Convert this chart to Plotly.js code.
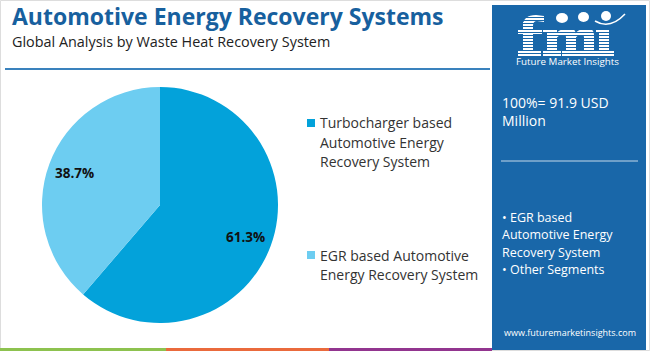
<!DOCTYPE html>
<html>
<head>
<meta charset="utf-8">
<script src="https://cdn.plot.ly/plotly-3.0.1.min.js"></script>
<style>html,body{margin:0;padding:0;background:#fff}#chart{width:650px;height:351px}</style>
</head>
<body>
<div id="chart"></div>
<script>
const categories = ["Turbocharger based Automotive Energy Recovery System", "EGR based Automotive Energy Recovery System"];
const legendLines = [["Turbocharger based", "Automotive Energy", "Recovery System"], ["EGR based Automotive", "Energy Recovery System"]];
const shares = [61.3, 38.7];
const sliceColors = ["#03a2da", "#6dcdf1"];
const titleText = "Automotive Energy Recovery Systems";
const subtitleText = "Global Analysis by Waste Heat Recovery System";
const totalLines = ["100%= 91.9 USD", "Million"];
const otherLines = ["• EGR based", "Automotive Energy", "Recovery System", "• Other Segments"];
const brandText = "Future Market Insights";
const siteText = "www.futuremarketinsights.com";

const W = 650, H = 351;
const px = x => x / W;
const py = y => 1 - y / H;
const panel = "#1967a9";
const FONT = "Open Sans, sans-serif";

const cx = 160, cy = 205, R = 118;

const data = [{
  type: "pie",
  labels: categories,
  values: shares,
  sort: false,
  direction: "clockwise",
  rotation: 0,
  marker: {colors: sliceColors, line: {width: 0}},
  textinfo: "none",
  hoverinfo: "none",
  showlegend: false,
  domain: {x: [px(cx - R), px(cx + R)], y: [py(cy + R), py(cy - R)]}
}];

function rect(x0, y0, x1, y1, fill, extra) {
  return Object.assign({type: "rect", xref: "paper", yref: "paper", x0: px(x0), x1: px(x1), y0: py(y1), y1: py(y0), line: {width: 0}, fillcolor: fill}, extra || {});
}
function pathShape(cmds, fill, lineColor, lw) {
  // cmds: array of [letter, x, y, (x, y)...] in pixels
  const d = cmds.map(c => c[0] + (c.length > 1 ? " " + c.slice(1).map((v, k) => k % 2 === 0 ? px(v) : py(v)).join(" ") : "")).join(" ");
  return {type: "path", xref: "paper", yref: "paper", path: d, fillcolor: fill || "rgba(0,0,0,0)", line: {color: lineColor || "rgba(0,0,0,0)", width: lw || 0}};
}

const shapes = [
  {type: "rect", xref: "paper", yref: "paper", x0: px(0.5), x1: px(W - 0.5), y0: py(H - 0.5), y1: py(0.5), line: {color: "#dddddd", width: 1}, fillcolor: "rgba(0,0,0,0)", layer: "below"},
  {type: "line", xref: "paper", yref: "paper", x0: px(5), x1: px(490), y0: py(69), y1: py(69), line: {color: "#3a82bd", width: 2}},
  rect(492, 5, 646, 350, panel, {layer: "below"}),
  {type: "line", xref: "paper", yref: "paper", x0: px(501), x1: px(638), y0: py(161), y1: py(161), line: {color: "rgba(255,255,255,0.75)", width: 1}},
  rect(0, 348, 166, 351, "#8dc24f"),
  rect(166, 348, 329, 351, "#ea6a3c"),
  rect(329, 348, 492, 351, "#92358f")
];

// ---- fmi logo (graphic) ----
const WH = "#ffffff";
// f
shapes.push(rect(523, 22, 533, 56, WH));
shapes.push(pathShape([["M", 523, 26], ["Q", 523, 15, 536, 15], ["L", 544, 16], ["L", 544, 22], ["L", 537, 21], ["Q", 533, 21, 533, 26], ["Z"]], WH));
shapes.push(rect(518, 29, 542, 34, WH));
shapes.push(rect(518, 51, 541, 56, WH));
// m
shapes.push(rect(547, 29, 557, 56, WH));
shapes.push(rect(543, 29, 557, 33, WH));
shapes.push(pathShape([["M", 556, 34], ["Q", 559, 29, 566, 29], ["L", 571, 29], ["Q", 576, 29, 576, 35], ["L", 576, 56], ["L", 566, 56], ["L", 566, 37], ["Q", 566, 35, 563, 35], ["Q", 558, 35, 556, 39], ["Z"]], WH));
shapes.push(pathShape([["M", 575, 34], ["Q", 578, 29, 585, 29], ["L", 589, 29], ["Q", 594, 29, 594, 35], ["L", 594, 56], ["L", 584, 56], ["L", 584, 37], ["Q", 584, 35, 581, 35], ["Q", 577, 35, 575, 39], ["Z"]], WH));
shapes.push(rect(543, 51, 561, 56, WH));
shapes.push(rect(562, 51, 580, 56, WH));
shapes.push(rect(580, 51, 597, 56, WH));
// i
shapes.push(rect(599, 29, 609, 56, WH));
shapes.push(rect(596, 29, 609, 33, WH));
shapes.push(rect(596, 51, 614, 56, WH));
// stripes across the letters
for (let y = 17.5; y < 56; y += 3) {
  const x0 = y < 27 ? 515 : 515;
  const x1 = y < 27 ? 548 : 618;
  shapes.push({type: "line", xref: "paper", yref: "paper", x0: px(x0), x1: px(x1), y0: py(y), y1: py(y), line: {color: panel, width: 1}});
}
// icons above the letters
shapes.push({type: "circle", xref: "paper", yref: "paper", x0: px(556), x1: px(568), y0: py(23), y1: py(13), line: {width: 0}, fillcolor: WH});
shapes.push({type: "circle", xref: "paper", yref: "paper", x0: px(578), x1: px(589), y0: py(22), y1: py(12), line: {width: 0}, fillcolor: WH});
shapes.push({type: "circle", xref: "paper", yref: "paper", x0: px(601), x1: px(611), y0: py(21), y1: py(11), line: {width: 0}, fillcolor: WH});
shapes.push(pathShape([["M", 595, 21], ["Q", 610, 30, 625, 14]], null, WH, 1.5));

const annotations = [];
function ann(text, x, y, size, color, opts) {
  annotations.push(Object.assign({
    text: text, xref: "paper", yref: "paper", x: px(x), y: py(y),
    xanchor: "left", yanchor: "middle", showarrow: false,
    font: {family: FONT, size: size, color: color}
  }, opts || {}));
}
ann("<b>" + titleText + "</b>", 10, 16.3, 23, "#17609e", {font: {family: FONT, size: 23, color: "#17609e", weight: 700}});
ann(subtitleText, 10, 41.8, 14.4, "#222222");

// slice percentage labels placed at each slice's mid-angle
const total = shares.reduce((a, b) => a + b, 0);
let cum = 0;
shares.forEach(v => {
  const mid = (cum + v / 2) / total * 2 * Math.PI;
  cum += v;
  const lx = cx + 0.775 * R * Math.sin(mid);
  const ly = cy - 0.775 * R * Math.cos(mid);
  ann("<b>" + v.toFixed(1) + "%</b>", lx, ly, 13.5, "#111111", {xanchor: "center", font: {family: FONT, size: 13.5, color: "#111111", weight: 700}});
});

// legend built from categories/colours
const legendTop = [123, 255];
legendLines.forEach((lines, i) => {
  lines.forEach((ln, j) => ann(ln, 318, legendTop[i] + j * 19, 14, "#333333"));
  shapes.push(rect(307, legendTop[i] - 4, 315, legendTop[i] + 4, sliceColors[i]));
});

// panel texts
ann(brandText, 567, 61, 9.8, "#ffffff", {xanchor: "center"});
totalLines.forEach((ln, j) => ann(ln, 500, 102 + j * 19, 14, "#ffffff"));
otherLines.forEach((ln, j) => ann(ln, 500, 217 + j * 17.5, 12.5, "#ffffff"));
ann(siteText, 570, 332, 9, "#ffffff", {xanchor: "center"});

const layout = {
  width: W, height: H,
  margin: {l: 0, r: 0, t: 0, b: 0},
  paper_bgcolor: "#ffffff",
  showlegend: false,
  shapes: shapes,
  annotations: annotations,
  font: {family: FONT}
};
Plotly.newPlot("chart", data, layout, {displayModeBar: false, staticPlot: true});
</script>
</body>
</html>
